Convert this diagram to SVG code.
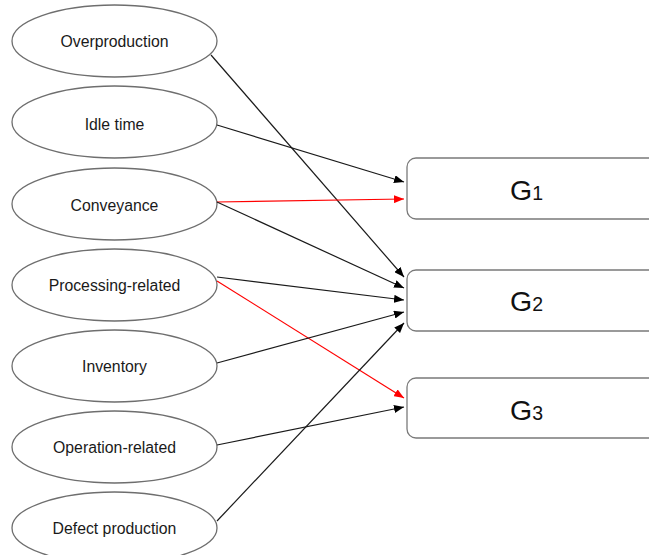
<svg xmlns="http://www.w3.org/2000/svg" width="649" height="555" viewBox="0 0 649 555">
  <style>
    .waste ellipse { fill: #ffffff; stroke: #6e6e6e; stroke-width: 1.3; }
    .waste text { font-family: "Liberation Sans", Arial, sans-serif; font-size: 15.8px; fill: #1a1a1a; text-anchor: middle; }
    .group rect { fill: #ffffff; stroke: #7a7a7a; stroke-width: 1.3; }
    .group text { font-family: "Liberation Sans", Arial, sans-serif; fill: #111111; }
    .group .main { font-size: 28.5px; }
    .group .sub { font-size: 19.5px; }
    .edges line { stroke-width: 1.2; fill: none; }
    .edges .k { stroke: #1a1a1a; marker-end: url(#ak); }
    .edges .r { stroke: #ff0000; marker-end: url(#ar); }
  </style>
  <defs>
    <marker id="ak" markerWidth="10" markerHeight="8" refX="10" refY="4" orient="auto" markerUnits="userSpaceOnUse">
      <path d="M0,0 L10,4 L0,8 Z" fill="#000000"/>
    </marker>
    <marker id="ar" markerWidth="10" markerHeight="8" refX="10" refY="4" orient="auto" markerUnits="userSpaceOnUse">
      <path d="M0,0 L10,4 L0,8 Z" fill="#ff0000"/>
    </marker>
  </defs>
  <rect width="649" height="555" fill="#ffffff"/>

  <!-- waste categories -->
  <g id="overproduction" class="waste">
    <ellipse cx="114.5" cy="41" rx="102.5" ry="36"/>
    <text x="114.5" y="47">Overproduction</text>
  </g>
  <g id="idle-time" class="waste">
    <ellipse cx="114.5" cy="122" rx="102.5" ry="36"/>
    <text x="114.5" y="130">Idle time</text>
  </g>
  <g id="conveyance" class="waste">
    <ellipse cx="114.5" cy="204" rx="102.5" ry="36"/>
    <text x="114.5" y="211">Conveyance</text>
  </g>
  <g id="processing-related" class="waste">
    <ellipse cx="114.5" cy="285" rx="102.5" ry="36"/>
    <text x="114.5" y="291">Processing-related</text>
  </g>
  <g id="inventory" class="waste">
    <ellipse cx="114.5" cy="366" rx="102.5" ry="36"/>
    <text x="114.5" y="372">Inventory</text>
  </g>
  <g id="operation-related" class="waste">
    <ellipse cx="114.5" cy="447" rx="102.5" ry="36"/>
    <text x="114.5" y="453">Operation-related</text>
  </g>
  <g id="defect-production" class="waste">
    <ellipse cx="114.5" cy="528" rx="102.5" ry="36"/>
    <text x="114.5" y="534">Defect production</text>
  </g>

  <!-- groups -->
  <g id="g1" class="group">
    <rect x="407" y="158" width="260" height="61" rx="9"/>
    <text x="510" y="200"><tspan class="main">G</tspan><tspan class="sub">1</tspan></text>
  </g>
  <g id="g2" class="group">
    <rect x="407" y="270" width="260" height="61" rx="9"/>
    <text x="510" y="311"><tspan class="main">G</tspan><tspan class="sub">2</tspan></text>
  </g>
  <g id="g3" class="group">
    <rect x="407" y="378" width="260" height="60" rx="9"/>
    <text x="510" y="420"><tspan class="main">G</tspan><tspan class="sub">3</tspan></text>
  </g>

  <!-- connectors -->
  <g id="edges" class="edges">
    <line class="k" x1="211" y1="55" x2="404" y2="277"/>
    <line class="k" x1="217" y1="125" x2="404" y2="182"/>
    <line class="r" x1="217" y1="202" x2="404" y2="199"/>
    <line class="k" x1="217" y1="202" x2="404" y2="288"/>
    <line class="k" x1="217" y1="277" x2="404" y2="300"/>
    <line class="r" x1="217" y1="281" x2="404" y2="398"/>
    <line class="k" x1="217" y1="363" x2="404" y2="312"/>
    <line class="k" x1="217" y1="445" x2="404" y2="407"/>
    <line class="k" x1="217" y1="521" x2="404" y2="323"/>
  </g>
</svg>
